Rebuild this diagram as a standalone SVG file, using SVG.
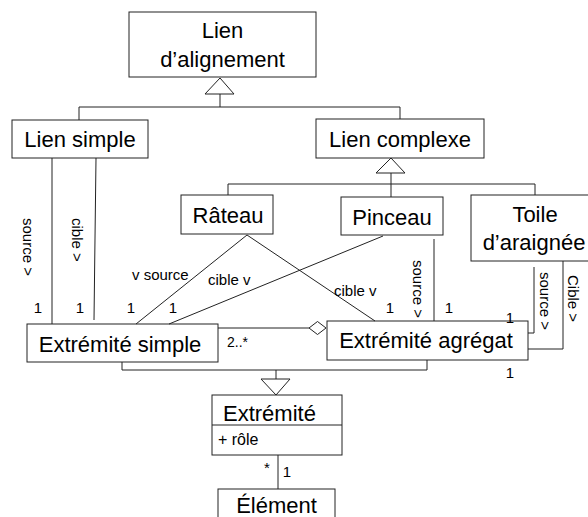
<svg xmlns="http://www.w3.org/2000/svg" width="588" height="517" viewBox="0 0 588 517">
<style>
.box{fill:#fff;stroke:#222;stroke-width:1}
.ln{fill:none;stroke:#222;stroke-width:1}
.tri{fill:#fff;stroke:#222;stroke-width:1}
.t{font-family:"Liberation Sans",Arial,sans-serif;font-size:22px;fill:#000}
.c{text-anchor:middle}
.s{font-family:"Liberation Sans",Arial,sans-serif;font-size:15px;fill:#000}
</style>
<rect width="588" height="517" fill="#fff"/>
<g id="lien-alignement">
  <rect class="box" x="129" y="12" width="187" height="65"/>
  <text class="t c" x="222.5" y="38">Lien</text>
  <text class="t c" x="222.5" y="67">d’alignement</text>
</g>
<g id="lien-simple">
  <rect class="box" x="12" y="120" width="136" height="38"/>
  <text class="t c" x="80" y="147">Lien simple</text>
</g>
<g id="lien-complexe">
  <rect class="box" x="316" y="119" width="168" height="39"/>
  <text class="t c" x="400" y="147">Lien complexe</text>
</g>
<g id="rateau">
  <rect class="box" x="181" y="195" width="92" height="39"/>
  <text class="t c" x="228" y="223">Râteau</text>
</g>
<g id="pinceau">
  <rect class="box" x="341" y="197" width="102" height="38"/>
  <text class="t c" x="392" y="225">Pinceau</text>
</g>
<g id="toile">
  <rect class="box" x="471" y="195" width="130" height="66"/>
  <text class="t c" x="535" y="222">Toile</text>
  <text class="t c" x="534" y="250">d’araignée</text>
</g>
<g id="extremite-simple">
  <rect class="box" x="27" y="324" width="191" height="38"/>
  <text class="t c" x="120" y="352">Extrémité simple</text>
</g>
<g id="extremite-agregat">
  <rect class="box" x="327" y="321" width="201" height="39"/>
  <text class="t c" x="426" y="348">Extrémité agrégat</text>
</g>
<g id="extremite">
  <rect class="box" x="212" y="395" width="130" height="60"/>
  <line class="ln" x1="212" y1="425" x2="342" y2="425"/>
  <text class="t" x="223" y="421">Extrémité</text>
  <text class="s" x="218" y="445" style="font-size:16px">+ rôle</text>
</g>
<g id="element">
  <rect class="box" x="218" y="489" width="117" height="40"/>
  <text class="t c" x="276.5" y="513">Élément</text>
</g>
<g id="connectors">
  <polyline class="ln" points="79,120 79,107 400,107 400,119"/>
  <line class="ln" x1="220" y1="94" x2="220" y2="107"/>
  <polygon class="tri" points="220,78 205,94 234,94"/>
  <polyline class="ln" points="228,195 228,184 535,184 535,195"/>
  <line class="ln" x1="391" y1="173" x2="391" y2="197"/>
  <polygon class="tri" points="391,158 376,173 405,173"/>
  <polyline class="ln" points="122,362 122,370 427,370 427,360"/>
  <line class="ln" x1="276" y1="370" x2="276" y2="379"/>
  <polygon class="tri" points="261,379 290,379 276,395"/>
  <line class="ln" x1="52" y1="158" x2="52" y2="324"/>
  <line class="ln" x1="96" y1="158" x2="94" y2="320"/>
  <line class="ln" x1="247" y1="235" x2="136" y2="324"/>
  <line class="ln" x1="247" y1="235" x2="375" y2="321"/>
  <line class="ln" x1="383" y1="236" x2="169" y2="324"/>
  <line class="ln" x1="434" y1="239" x2="434" y2="321"/>
  <polyline class="ln" points="534,267 534,333 528,333"/>
  <polyline class="ln" points="563,261 563,349 528,349"/>
  <line class="ln" x1="218" y1="328" x2="309" y2="328"/>
  <polygon class="tri" points="309,328 317.5,321.5 326,328 317.5,334.5"/>
  <line class="ln" x1="278" y1="455" x2="278" y2="489"/>
  <text class="s" transform="translate(23,218) rotate(90)">source &gt;</text>
  <text class="s" transform="translate(72,218) rotate(90)">cible &gt;</text>
  <text class="s" transform="translate(413,260) rotate(90)">source &gt;</text>
  <text class="s" transform="translate(540,272) rotate(90)">source &gt;</text>
  <text class="s" transform="translate(568,275) rotate(90)">Cible &gt;</text>
  <text class="s" x="132" y="280">v source</text>
  <text class="s" x="208" y="285">cible v</text>
  <text class="s" x="334" y="296">cible v</text>
  <text class="s c" x="38" y="313">1</text>
  <text class="s c" x="80" y="313">1</text>
  <text class="s c" x="131" y="313">1</text>
  <text class="s c" x="173" y="313">1</text>
  <text class="s c" x="390" y="313">1</text>
  <text class="s c" x="449" y="313">1</text>
  <text class="s c" x="510" y="323">1</text>
  <text class="s c" x="510" y="378">1</text>
  <text class="s" x="227" y="347" style="font-size:14px">2..*</text>
  <text class="s c" x="267" y="473">*</text>
  <text class="s c" x="287" y="477">1</text>
</g>
</svg>
